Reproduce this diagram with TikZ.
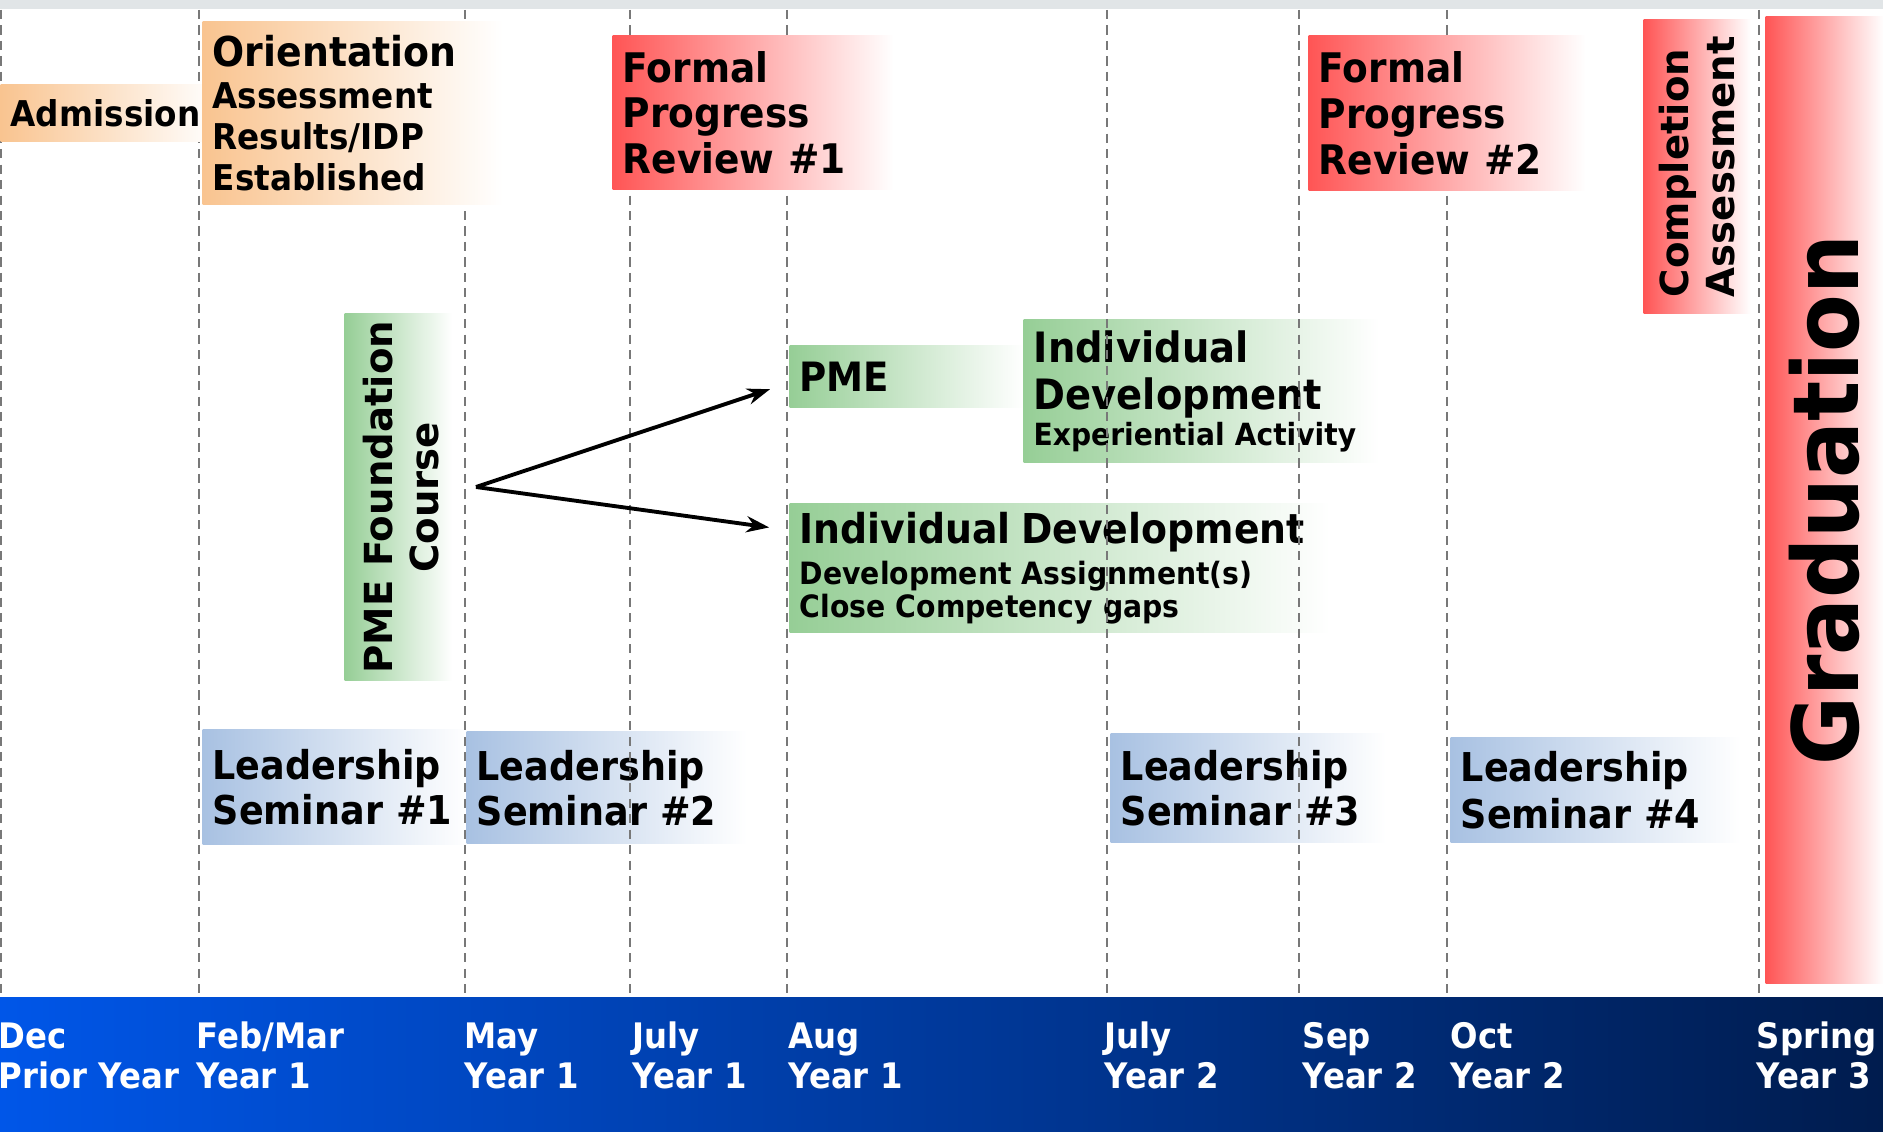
\documentclass[tikz,border=0pt]{standalone}
\usepackage{fontspec}
\setmainfont{DejaVu Sans}[FakeStretch=0.92]
\newfontfamily\widefont{DejaVu Sans}
\usetikzlibrary{arrows.meta}
\definecolor{rimGray}{RGB}{225,229,231}
\definecolor{gridGray}{RGB}{120,120,120}
\definecolor{bandBlue}{RGB}{0,86,232}
\definecolor{bandNavy}{RGB}{0,28,78}
\definecolor{boxOrange}{RGB}{249,196,144}
\definecolor{boxRed}{RGB}{255,85,85}
\definecolor{boxGreen}{RGB}{150,206,150}
\definecolor{boxBlue}{RGB}{168,193,226}

\begin{document}
\begin{tikzpicture}[every node/.style={font=\bfseries,inner sep=0pt},
  box/.style={anchor=north west,inner xsep=1mm,align=left},
  orangebox/.style={box,left color=boxOrange,right color=white},
  redbox/.style={box,left color=boxRed,right color=white},
  greenbox/.style={box,left color=boxGreen,right color=white},
  bluebox/.style={box,left color=boxBlue,right color=white},
  tallbox/.style={anchor=north west,right color=white},
  gridline/.style={draw=gridGray,line width=.7pt,dash pattern=on 2.6pt off 1.8pt},
  flow/.style={-{Stealth[length=6.5pt,width=4.6pt]},line width=1.1pt,shorten >=0.2cm},
  datelabel/.style={anchor=north west,align=left,text=white,font=\fontsize{10}{11.4}\selectfont\bfseries}]
\useasboundingbox (0,0) rectangle (18.83,11.31);
\fill[white] (0,0) rectangle (18.83,11.31);
\fill[rimGray] (0,11.22) rectangle (18.83,11.31);
\shade[left color=bandBlue,right color=bandNavy] (0,0) rectangle (18.83,1.34);

\node[tallbox,left color=boxGreen,minimum width=0.96cm,minimum height=3.67cm,font=\widefont\fontsize{11}{13}\selectfont\bfseries] (pmefc) at (3.44,8.18) {\hspace*{1.6mm}\rotatebox{90}{\begin{tabular}{@{}c@{}}PME Foundation\\Course\end{tabular}}};
\node[greenbox,text width=2.14cm,minimum height=0.62cm,font=\fontsize{11.5}{13}\selectfont\bfseries] (pme) at (7.89,7.86) {PME};
\node[greenbox,text width=3.35cm,minimum height=1.43cm,font=\fontsize{8.7}{10.2}\selectfont\bfseries] (idtop) at (10.23,8.12) {{\fontsize{11.9}{13}\selectfont Individual\\[3.2pt]Development}\\Experiential Activity};
\node[greenbox,text width=5.2cm,minimum height=1.29cm,font=\fontsize{8.75}{9.6}\selectfont\bfseries] (idlow) at (7.89,6.28) {{\fontsize{11.7}{13}\selectfont Individual Development}\\[2pt]Development Assignment(s)\\Close Competency gaps};

\node[bluebox,text width=2.45cm,minimum height=1.15cm,font=\fontsize{11.3}{12.8}\selectfont\bfseries] (ls1) at (2.02,4.02) {Leadership\\Seminar \#1};
\node[bluebox,text width=2.6cm,minimum height=1.12cm,font=\fontsize{11.3}{12.8}\selectfont\bfseries] (ls2) at (4.66,4.00) {Leadership\\Seminar \#2};
\node[bluebox,text width=2.55cm,minimum height=1.09cm,font=\fontsize{11.3}{12.8}\selectfont\bfseries] (ls3) at (11.10,3.98) {Leadership\\Seminar \#3};
\node[bluebox,text width=2.7cm,minimum height=1.05cm,font=\fontsize{11.3}{13.6}\selectfont\bfseries] (ls4) at (14.50,3.94) {Leadership\\Seminar \#4};

\draw[gridline] (0.01,11.21) -- (0.01,1.34);
\draw[gridline] (1.99,11.21) -- (1.99,1.34);
\draw[gridline] (4.65,11.21) -- (4.65,1.34);
\draw[gridline] (6.30,11.21) -- (6.30,1.34);
\draw[gridline] (7.87,11.21) -- (7.87,1.34);
\draw[gridline] (11.07,11.21) -- (11.07,1.34);
\draw[gridline] (12.99,11.21) -- (12.99,1.34);
\draw[gridline] (14.47,11.21) -- (14.47,1.34);
\draw[gridline] (17.59,11.21) -- (17.59,1.34);

\node[orangebox,text width=1.95cm,minimum height=0.57cm,font=\fontsize{10.1}{12}\selectfont\bfseries] (adm) at (0,10.47) {Admission};
\node[orangebox,text width=2.80cm,minimum height=1.83cm,font=\fontsize{10.1}{11.7}\selectfont\bfseries] (orient) at (2.02,11.10) {{\fontsize{11.7}{13}\selectfont Orientation}\\Assessment\\Results/IDP\\Established};
\node[redbox,text width=2.61cm,minimum height=1.54cm,font=\fontsize{11.6}{13}\selectfont\bfseries] (fpr1) at (6.12,10.96) {Formal\\Progress\\Review \#1};
\node[redbox,text width=2.57cm,minimum height=1.55cm,font=\fontsize{11.6}{13}\selectfont\bfseries] (fpr2) at (13.08,10.96) {Formal\\Progress\\Review \#2};
\node[tallbox,left color=boxRed,minimum width=1.07cm,minimum height=2.94cm,font=\widefont\fontsize{11}{13}\selectfont\bfseries] (compl) at (16.43,11.12) {\hspace*{1mm}\rotatebox{90}{\begin{tabular}{@{}l@{}}Completion\\Assessment\end{tabular}}};
\node[tallbox,left color=boxRed,minimum width=1.18cm,minimum height=9.67cm,font=\fontsize{26}{30}\selectfont\bfseries] (grad) at (17.65,11.15) {\rotatebox{90}{Graduation}};

\coordinate (fork) at (4.76,6.44);
\draw[flow] (fork) -- (pme.183);
\draw[flow] (fork) -- (idlow.172);

\node[datelabel] (dec) at (-0.02,1.11) {\strut Dec\\Prior Year};
\node[datelabel] (febmar) at (1.96,1.11) {\strut Feb/Mar\\Year 1};
\node[datelabel] (may) at (4.64,1.11) {\strut May\\Year 1};
\node[datelabel] (julyone) at (6.32,1.11) {\strut July\\Year 1};
\node[datelabel] (aug) at (7.88,1.11) {\strut Aug\\Year 1};
\node[datelabel] (julytwo) at (11.04,1.11) {\strut July\\Year 2};
\node[datelabel] (sep) at (13.02,1.11) {\strut Sep\\Year 2};
\node[datelabel] (oct) at (14.50,1.11) {\strut Oct\\Year 2};
\node[datelabel] (spring) at (17.56,1.11) {\strut Spring\\Year 3};
\end{tikzpicture}
\end{document}
